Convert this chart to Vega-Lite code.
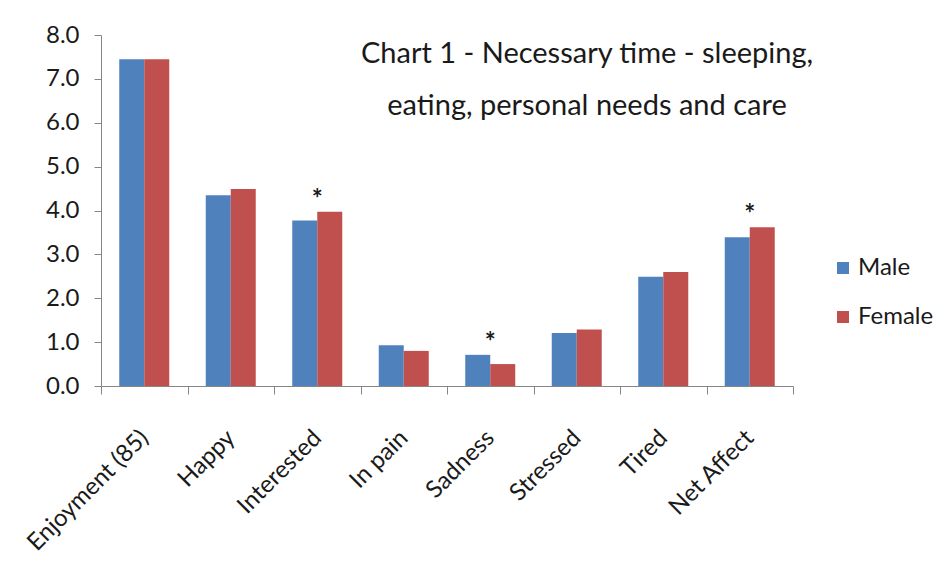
{
  "$schema": "https://vega.github.io/schema/vega-lite/v6.json",
  "width": 692,
  "height": 351,
  "autosize": "none",
  "padding": {"left": 101, "top": 35, "right": 158, "bottom": 186},
  "background": "white",
  "title": {
    "text": ["Chart 1 - Necessary time - sleeping,", "eating, personal needs and care"],
    "font": "Lato",
    "fontSize": 29,
    "fontWeight": "normal",
    "color": "#1a1a1a",
    "anchor": "middle",
    "baseline": "top",
    "lineHeight": 52,
    "offset": 0,
    "dx": 140,
    "dy": 98
  },
  "datasets": {
    "bars": [
      {"emotion": "Enjoyment (85)", "sex": "Male", "value": 7.45},
      {"emotion": "Enjoyment (85)", "sex": "Female", "value": 7.45},
      {"emotion": "Happy", "sex": "Male", "value": 4.35},
      {"emotion": "Happy", "sex": "Female", "value": 4.49},
      {"emotion": "Interested", "sex": "Male", "value": 3.77},
      {"emotion": "Interested", "sex": "Female", "value": 3.97},
      {"emotion": "In pain", "sex": "Male", "value": 0.93},
      {"emotion": "In pain", "sex": "Female", "value": 0.8},
      {"emotion": "Sadness", "sex": "Male", "value": 0.71},
      {"emotion": "Sadness", "sex": "Female", "value": 0.5},
      {"emotion": "Stressed", "sex": "Male", "value": 1.21},
      {"emotion": "Stressed", "sex": "Female", "value": 1.29},
      {"emotion": "Tired", "sex": "Male", "value": 2.49},
      {"emotion": "Tired", "sex": "Female", "value": 2.6},
      {"emotion": "Net Affect", "sex": "Male", "value": 3.39},
      {"emotion": "Net Affect", "sex": "Female", "value": 3.62}
    ],
    "significant": [
      {"emotion": "Interested", "value": 3.97, "flag": "*"},
      {"emotion": "Sadness", "value": 0.71, "flag": "*"},
      {"emotion": "Net Affect", "value": 3.62, "flag": "*"}
    ]
  },
  "config": {
    "font": "Lato",
    "view": {"stroke": null},
    "axis": {
      "domainColor": "#868686",
      "tickColor": "#868686",
      "grid": false,
      "labelFont": "Lato",
      "labelColor": "#1a1a1a",
      "labelFontSize": 24,
      "title": null
    }
  },
  "layer": [
    {
      "data": {"name": "bars"},
      "mark": {"type": "bar"},
      "encoding": {
        "x": {
          "field": "emotion",
          "type": "nominal",
          "sort": null,
          "scale": {"paddingInner": 0, "paddingOuter": 0},
          "axis": {
            "labelAngle": -45,
            "labelAlign": "right",
            "labelBaseline": "middle",
            "labelPadding": 40,
            "tickSize": 8,
            "tickBand": "extent"
          }
        },
        "xOffset": {
          "field": "sex",
          "sort": ["Male", "Female"],
          "scale": {"paddingInner": 0, "paddingOuter": 0.73}
        },
        "y": {
          "field": "value",
          "type": "quantitative",
          "scale": {"domain": [0, 8]},
          "axis": {
            "values": [0, 1, 2, 3, 4, 5, 6, 7, 8],
            "format": ".1f",
            "tickSize": 7,
            "labelPadding": 15
          }
        },
        "color": {
          "field": "sex",
          "type": "nominal",
          "sort": ["Male", "Female"],
          "scale": {"domain": ["Male", "Female"], "range": ["#4F81BD", "#C0504D"]},
          "legend": {
            "title": null,
            "orient": "none",
            "legendX": 730,
            "legendY": 221,
            "symbolType": "square",
            "symbolSize": 144,
            "symbolStrokeWidth": 0,
            "labelFont": "Lato",
            "labelFontSize": 24,
            "labelColor": "#1a1a1a",
            "labelOffset": 3,
            "rowPadding": 25
          }
        }
      }
    },
    {
      "data": {"name": "significant"},
      "mark": {"type": "text", "font": "Lato", "fontSize": 26, "fontWeight": "bold", "baseline": "alphabetic", "dy": -4, "color": "#1a1a1a"},
      "encoding": {
        "x": {"field": "emotion", "type": "nominal", "sort": null},
        "y": {"field": "value", "type": "quantitative"},
        "text": {"field": "flag"}
      }
    }
  ]
}
